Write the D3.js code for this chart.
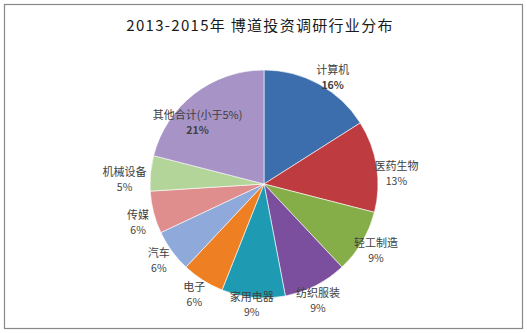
<!DOCTYPE html>
<html><head><meta charset="utf-8">
<script src="https://cdn.jsdelivr.net/npm/d3@7/dist/d3.min.js"></script>
<style>
html,body{margin:0;padding:0;background:#fff;}
svg{display:block;font-family:"Noto Sans CJK SC","Noto Sans",sans-serif;}
</style></head><body>
<svg id="c" width="527" height="333"></svg>
<script>
const title = "2013-2015年 博道投资调研行业分布";
const categories = ["计算机","医药生物","轻工制造","纺织服装","家用电器","电子","汽车","传媒","机械设备","其他合计(小于5%)"];
const values = [16,13,9,9,9,6,6,6,5,21];
const percentLabels = ["16%","13%","9%","9%","9%","6%","6%","6%","5%","21%"];
const colors = ["#3C6EAE","#BE3B40","#86AE48","#7B4F9D","#1E9AB2","#EF7F23","#8FA9DA","#E08D8D","#B3D59A","#A793C5"];

const svg = d3.select("#c");
svg.append("rect").attr("x",4.5).attr("y",4.5).attr("width",518).attr("height",324)
  .attr("fill","#fff").attr("stroke","#888").attr("stroke-width",1.2);

svg.append("text").attr("x",260).attr("y",31).attr("text-anchor","middle")
  .attr("font-size",15).attr("fill","#1a1a1a").attr("letter-spacing",1.3).text(title);

const cx = 264, cy = 184, r = 114;
const g = svg.append("g").attr("transform",`translate(${cx},${cy})`);
const pie = d3.pie().sort(null).value(d=>d)(values);
const arc = d3.arc().innerRadius(0).outerRadius(r);
g.selectAll("path").data(pie).join("path")
  .attr("d",arc).attr("fill",(d,i)=>colors[i])
  .attr("stroke","#fff").attr("stroke-width",0.6);

// best-fit style label placement: centroid on a ring, with small layout nudges
const nudge = {"计算机":[6,7],"医药生物":[4,9],"纺织服装":[-5,0],"家用电器":[0,-9],
  "传媒":[0,6],"机械设备":[-10,7],"其他合计(小于5%)":[-10,11]};
const outerLabel = d3.arc().innerRadius(130).outerRadius(130);
const innerLabel = d3.arc().innerRadius(92).outerRadius(92);
const lab = g.selectAll("g.lab").data(pie).join("g").attr("class","lab")
  .attr("transform",(d,i)=>{
    const c = (i===values.length-1 ? innerLabel : outerLabel).centroid(d);
    const n = nudge[categories[i]] || [0,0];
    return `translate(${c[0]+n[0]},${c[1]+n[1]})`;
  });
lab.append("text").attr("text-anchor","middle").attr("y",-3)
  .attr("font-size",11).attr("fill","#404040").text((d,i)=>categories[i]);
lab.append("text").attr("text-anchor","middle").attr("y",12)
  .attr("font-size",10.5).attr("fill","#404040")
  .attr("font-weight",(d,i)=>i===values.length-1||i===0?"bold":"normal")
  .text((d,i)=>percentLabels[i]);
</script></body></html>
